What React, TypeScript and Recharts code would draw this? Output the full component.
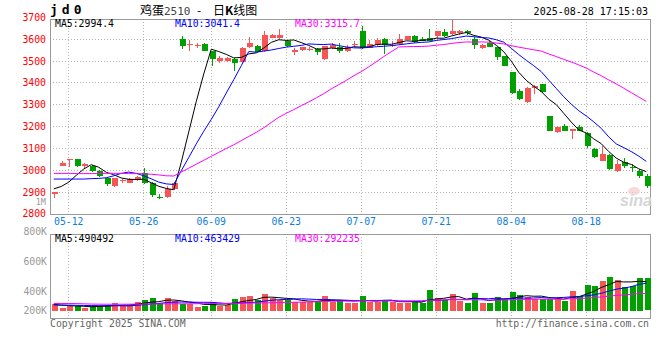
import { ComposedChart, Bar, Line, XAxis, YAxis, CartesianGrid, ReferenceArea, Cell } from 'recharts';

const DATES = [
    '05-08', '05-09', '05-12', '05-13', '05-14', '05-15', '05-16', '05-19', '05-20', '05-21',
    '05-22', '05-23', '05-26', '05-27', '05-28', '05-29', '05-30', '06-03', '06-04', '06-05',
    '06-06', '06-09', '06-10', '06-11', '06-12', '06-13', '06-16', '06-17', '06-18', '06-19',
    '06-20', '06-23', '06-24', '06-25', '06-26', '06-27', '06-30', '07-01', '07-02', '07-03',
    '07-04', '07-07', '07-08', '07-09', '07-10', '07-11', '07-14', '07-15', '07-16', '07-17',
    '07-18', '07-21', '07-22', '07-23', '07-24', '07-25', '07-28', '07-29', '07-30', '07-31',
    '08-01', '08-04', '08-05', '08-06', '08-07', '08-08', '08-11', '08-12', '08-13', '08-14',
    '08-15', '08-18', '08-19', '08-20', '08-21', '08-22', '08-25', '08-26', '08-27', '08-28',
];

const OPEN = [
    2892, 3021, 3046, 3053, 3018, 3022, 2999, 2964, 2927, 2953,
    2943, 2955, 2990, 2942, 2880, 2880, 2915, 3603, 3573, 3568,
    3580, 3545, 3499, 3499, 3510, 3495, 3566, 3570, 3545, 3608,
    3604, 3591, 3542, 3550, 3555, 3556, 3510, 3558, 3564, 3546,
    3576, 3638, 3561, 3573, 3603, 3570, 3578, 3599, 3614, 3603,
    3606, 3615, 3633, 3626, 3630, 3638, 3600, 3558, 3581, 3563,
    3523, 3450, 3364, 3313, 3379, 3394, 3248, 3177, 3205, 3179,
    3199, 3172, 3099, 3045, 3072, 2995, 3038, 3015, 2999, 2972,
];
const HIGH = [
    2901, 3045, 3054, 3054, 3033, 3024, 3000, 2966, 2966, 2962,
    2966, 2973, 3012, 2945, 2893, 2928, 2945, 3616, 3595, 3585,
    3584, 3548, 3525, 3520, 3513, 3563, 3610, 3572, 3640, 3625,
    3646, 3595, 3558, 3566, 3565, 3560, 3571, 3582, 3585, 3575,
    3592, 3661, 3597, 3605, 3606, 3590, 3623, 3617, 3618, 3612,
    3649, 3640, 3649, 3690, 3643, 3641, 3612, 3580, 3590, 3566,
    3525, 3452, 3372, 3380, 3392, 3396, 3250, 3205, 3212, 3190,
    3206, 3174, 3101, 3110, 3074, 3047, 3055, 3030, 3005, 2984,
];
const LOW = [
    2872, 3018, 3015, 3016, 3007, 2993, 2970, 2930, 2925, 2940,
    2940, 2950, 2936, 2880, 2868, 2875, 2912, 3555, 3545, 3562,
    3545, 3480, 3490, 3495, 3454, 3485, 3560, 3540, 3540, 3604,
    3600, 3565, 3530, 3545, 3548, 3530, 3505, 3555, 3538, 3543,
    3565, 3556, 3558, 3570, 3533, 3567, 3575, 3596, 3585, 3590,
    3590, 3605, 3612, 3622, 3621, 3622, 3555, 3556, 3563, 3505,
    3476, 3350, 3322, 3310, 3350, 3356, 3178, 3172, 3178, 3142,
    3178, 3100, 3058, 3043, 3002, 2993, 3010, 2993, 2966, 2920,
];
const CLOSE = [
    2899, 3033, 3052, 3018, 3030, 2996, 2974, 2936, 2964, 2957,
    2962, 2970, 2940, 2885, 2876, 2915, 2941, 3569, 3577, 3572,
    3548, 3508, 3515, 3514, 3490, 3560, 3585, 3543, 3621, 3621,
    3621, 3568, 3552, 3563, 3557, 3541, 3568, 3572, 3545, 3565,
    3580, 3560, 3577, 3598, 3573, 3576, 3603, 3614, 3588, 3593,
    3593, 3638, 3615, 3638, 3636, 3627, 3573, 3576, 3566, 3521,
    3479, 3356, 3325, 3378, 3388, 3359, 3180, 3199, 3180, 3188,
    3180, 3110, 3061, 3073, 3004, 3030, 3018, 3011, 2972, 2928,
];

const MA5 = [
    2915, 2926, 2946, 2977, 3006, 3026, 3014, 2991, 2980, 2965,
    2959, 2958, 2959, 2943, 2927, 2917, 2911, 3037, 3176, 3315,
    3441, 3555, 3544, 3531, 3515, 3517, 3533, 3538, 3560, 3586,
    3598, 3595, 3597, 3585, 3572, 3556, 3556, 3560, 3557, 3558,
    3566, 3564, 3565, 3576, 3578, 3577, 3585, 3593, 3591, 3595,
    3598, 3605, 3605, 3615, 3624, 3631, 3618, 3610, 3596, 3573,
    3543, 3500, 3449, 3412, 3385, 3361, 3326, 3301, 3261, 3221,
    3185, 3171, 3144, 3122, 3086, 3056, 3037, 3027, 3007, 2994,
];
const MA10 = [
    2960, 2960, 2960, 2960, 2960, 2962, 2963, 2966, 2975, 2986,
    2992, 2986, 2975, 2961, 2946, 2938, 2935, 2998, 3059, 3121,
    3179, 3233, 3291, 3354, 3415, 3479, 3544, 3541, 3546, 3551,
    3558, 3564, 3568, 3572, 3579, 3577, 3576, 3578, 3571, 3565,
    3561, 3560, 3563, 3566, 3568, 3571, 3575, 3579, 3583, 3586,
    3588, 3595, 3599, 3603, 3609, 3615, 3612, 3608, 3606, 3598,
    3587, 3559, 3530, 3504, 3479, 3452, 3413, 3375, 3337, 3303,
    3273, 3249, 3222, 3192, 3153, 3121, 3104, 3086, 3065, 3041,
];
const MA30 = [
    2986, 2986, 2986, 2985, 2985, 2985, 2985, 2986, 2986, 2986,
    2985, 2985, 2984, 2982, 2979, 2975, 2974, 2992, 3010, 3028,
    3046, 3064, 3082, 3100, 3117, 3136, 3155, 3174, 3195, 3219,
    3243, 3261, 3278, 3296, 3313, 3332, 3351, 3373, 3392, 3412,
    3433, 3452, 3474, 3497, 3521, 3543, 3565, 3566, 3567, 3567,
    3569, 3573, 3576, 3581, 3585, 3588, 3587, 3588, 3587, 3583,
    3579, 3571, 3564, 3558, 3552, 3546, 3533, 3521, 3508, 3496,
    3483, 3468, 3450, 3433, 3414, 3396, 3376, 3356, 3336, 3316,
];

const VOLUME = [
    123000, 50000, 79000, 79000, 55000, 79000, 79000, 96000, 129000, 89000,
    96000, 146000, 180000, 213000, 134000, 213000, 168000, 113000, 113000, 62000,
    89000, 146000, 89000, 101000, 197000, 230000, 247000, 180000, 281000, 213000,
    190000, 180000, 146000, 156000, 146000, 168000, 247000, 151000, 190000, 134000,
    134000, 247000, 156000, 146000, 190000, 156000, 134000, 134000, 163000, 134000,
    348000, 213000, 190000, 281000, 163000, 134000, 297000, 129000, 134000, 240000,
    197000, 324000, 269000, 240000, 197000, 207000, 207000, 197000, 173000, 341000,
    252000, 437000, 425000, 504000, 571000, 521000, 403000, 425000, 559000, 543000,
];
const VOL_MA5 = [
    105000, 95000, 88000, 82000, 77000, 68000, 74000, 78000, 88000, 94000,
    98000, 111000, 128000, 145000, 154000, 177000, 182000, 168000, 148000, 134000,
    109000, 105000, 100000, 97000, 124000, 153000, 173000, 191000, 227000, 230000,
    222000, 209000, 202000, 177000, 164000, 159000, 173000, 174000, 180000, 178000,
    171000, 171000, 172000, 163000, 175000, 179000, 156000, 152000, 155000, 144000,
    183000, 198000, 210000, 233000, 239000, 196000, 213000, 201000, 171000, 187000,
    199000, 205000, 233000, 254000, 245000, 247000, 224000, 210000, 196000, 225000,
    234000, 280000, 326000, 392000, 438000, 492000, 485000, 485000, 496000, 490000,
];
const VOL_MA10 = [
    100000, 98000, 96000, 93000, 90000, 88000, 87000, 86000, 86000, 86000,
    83000, 93000, 103000, 116000, 124000, 138000, 146000, 148000, 147000, 144000,
    143000, 143000, 134000, 123000, 129000, 131000, 139000, 145000, 162000, 177000,
    187000, 191000, 197000, 202000, 197000, 191000, 191000, 188000, 179000, 171000,
    165000, 172000, 173000, 172000, 176000, 175000, 164000, 162000, 159000, 159000,
    181000, 177000, 181000, 194000, 192000, 189000, 206000, 205000, 202000, 213000,
    198000, 209000, 217000, 213000, 216000, 223000, 214000, 221000, 225000, 235000,
    241000, 252000, 268000, 294000, 331000, 363000, 382000, 405000, 444000, 463000,
];
const VOL_MA30 = [
    123000, 123000, 123000, 122000, 118000, 114000, 112000, 111000, 111000, 111000,
    112000, 113000, 114000, 115000, 116000, 117000, 118000, 118000, 119000, 120000,
    121000, 122000, 123000, 124000, 126000, 128000, 130000, 132000, 134000, 136000,
    138000, 142000, 144000, 147000, 150000, 153000, 159000, 160000, 162000, 164000,
    165000, 169000, 168000, 166000, 167000, 166000, 164000, 165000, 167000, 169000,
    178000, 180000, 183000, 189000, 188000, 185000, 187000, 185000, 180000, 181000,
    181000, 186000, 190000, 193000, 195000, 196000, 195000, 196000, 196000, 203000,
    206000, 213000, 222000, 234000, 246000, 259000, 268000, 277000, 290000, 292000,
];

const DATE_TICKS = ['05-12', '05-26', '06-09', '06-23', '07-07', '07-21', '08-04', '08-18'];
const PRICE_TICKS = [2800, 2900, 3000, 3100, 3200, 3300, 3400, 3500, 3600, 3700];
const VOL_GRID = [254000, 596000, 936000];
const VOL_LABELS = ['800K', '600K', '400K', '200K'];
const VOL_LABEL_Y = [234.5, 264.5, 294.5, 314];

const PRICE_LEGEND = ['MA5:2994.4', 'MA10:3041.4', 'MA30:3315.7'];
const VOL_LEGEND = ['MA5:490492', 'MA10:463429', 'MA30:292235'];

const RED = '#f65656';
const GREEN = '#00a000';
const MA_COLORS = ['#000000', '#0000ff', '#ff00ff'];
const MONO = '"DejaVu Sans Mono", "Liberation Mono", monospace';
const GRID = '#b4b4b4';

const priceData = DATES.map((date, i) => ({
    date,
    open: OPEN[i],
    high: HIGH[i],
    low: LOW[i],
    close: CLOSE[i],
    ma5: MA5[i],
    ma10: MA10[i],
    ma30: MA30[i],
}));

const volData = DATES.map((date, i) => ({
    date,
    vol: VOLUME[i],
    up: CLOSE[i] >= OPEN[i],
    ma5: VOL_MA5[i],
    ma10: VOL_MA10[i],
    ma30: VOL_MA30[i],
}));

function Candle(props: any) {
    const { x, y, width, height, payload } = props;
    const { open, close, high, low } = payload;
    const color = close >= open ? RED : GREEN;
    const k = high === low ? 0 : height / (high - low);
    const yOf = (v: number) => y + (high - v) * k;
    const top = yOf(Math.max(open, close));
    const bottom = yOf(Math.min(open, close));
    const left = Math.round(x);
    const cx = left + 3.5;
    return (
        <g shapeRendering="crispEdges">
            <line x1={cx} x2={cx} y1={Math.round(y)} y2={Math.round(y + height)} stroke={color} strokeWidth={1} />
            <rect x={left + 0.5} y={Math.round(top)} width={width} height={Math.max(1, Math.round(bottom) - Math.round(top))} fill={color} />
        </g>
    );
}

function VolBar(props: any) {
    const { x, y, width, height, payload } = props;
    return (
        <rect
            x={Math.round(x) + 0.5}
            y={Math.round(y)}
            width={width}
            height={Math.max(0, Math.round(height))}
            fill={payload.up ? RED : GREEN}
            shapeRendering="crispEdges"
        />
    );
}

// hide grid lines that fall on the frame
const innerHLines = (top: number, bottom: number) => (p: any) =>
    p.y1 > top + 1 && p.y1 < bottom - 1 ? (
        <line key={`h-${p.index}`} x1={p.x1} x2={p.x2} y1={p.y1} y2={p.y1} stroke={GRID} strokeDasharray="1 2" shapeRendering="crispEdges" />
    ) : (
        <g key={`h-${p.index}`} />
    );

const DateTick = (p: any) => (
    <text x={p.x} y={p.y + 10.5} textAnchor="middle" fill="#0a7ee0" fontSize={9.8} fontFamily={MONO}>
        {p.payload.value}
    </text>
);

export default function App() {
    const txt = { fontFamily: MONO, fontSize: 9.8 };
    return (
        <div style={{ position: 'absolute', left: 0, top: 0, width: 660, height: 360, background: '#fff' }}>
            <div style={{ position: 'absolute', left: 0, top: 0 }}>
                <ComposedChart width={660} height={230} data={priceData} margin={{ top: 19, right: 10, bottom: 0, left: 0 }}>
                    <CartesianGrid stroke={GRID} strokeDasharray="1 2" shapeRendering="crispEdges" horizontal={innerHLines(19, 214)} />
                    <XAxis dataKey="date" ticks={DATE_TICKS} interval={0} axisLine={false} tickLine={false} tickSize={0} tickMargin={0} height={16} tick={DateTick} />
                    <YAxis
                        domain={[2800, 3693]}
                        allowDataOverflow
                        ticks={PRICE_TICKS}
                        interval={0}
                        width={50}
                        axisLine={false}
                        tickLine={false}
                        tickSize={0}
                        tickMargin={4}
                        tick={{ fill: '#f00', fontSize: 9.8, fontFamily: MONO }}
                    />
                    <Bar dataKey={(d: any) => [d.low, d.high]} barSize={6} shape={Candle} isAnimationActive={false} />
                    <Line dataKey="ma5" stroke={MA_COLORS[0]} strokeWidth={1} dot={false} isAnimationActive={false} />
                    <Line dataKey="ma10" stroke={MA_COLORS[1]} strokeWidth={1} dot={false} isAnimationActive={false} />
                    <Line dataKey="ma30" stroke={MA_COLORS[2]} strokeWidth={1} dot={false} isAnimationActive={false} />
                    <ReferenceArea y1={2800} y2={3693} ifOverflow="visible" fill="none" stroke="#999" strokeWidth={1} shapeRendering="crispEdges" />
                </ComposedChart>
            </div>

            <div style={{ position: 'absolute', left: 0, top: 230 }}>
                <ComposedChart width={660} height={90} data={volData} margin={{ top: 4, right: 10, bottom: 2, left: 0 }}>
                    <CartesianGrid stroke={GRID} strokeDasharray="1 2" shapeRendering="crispEdges" />
                    <XAxis dataKey="date" ticks={DATE_TICKS} interval={0} hide />
                    <YAxis domain={[-120000, 1289000]} allowDataOverflow ticks={VOL_GRID} interval={0} width={50} tick={false} axisLine={false} tickLine={false} />
                    <Bar dataKey="vol" barSize={6} shape={VolBar} isAnimationActive={false}>
                        {volData.map((d, i) => (
                            <Cell key={i} fill={d.up ? RED : GREEN} />
                        ))}
                    </Bar>
                    <Line dataKey="ma5" stroke={MA_COLORS[0]} strokeWidth={1} dot={false} isAnimationActive={false} />
                    <Line dataKey="ma10" stroke={MA_COLORS[1]} strokeWidth={1} dot={false} isAnimationActive={false} />
                    <Line dataKey="ma30" stroke={MA_COLORS[2]} strokeWidth={1} dot={false} isAnimationActive={false} />
                    <ReferenceArea y1={-120000} y2={1289000} ifOverflow="visible" fill="none" stroke="#999" strokeWidth={1} shapeRendering="crispEdges" />
                </ComposedChart>
            </div>

            {/* titles, legends and labels */}
            <svg width={660} height={360} style={{ position: 'absolute', left: 0, top: 0, pointerEvents: 'none' }}>
                <text x={50} y={14} fontFamily={MONO} fontSize={13} fontWeight="bold" letterSpacing={4} fill="#000">jd0</text>
                <text y={15} fontSize={12} fill="#000" fontFamily='"Noto Sans CJK SC", sans-serif'>
                    <tspan x={140}>鸡蛋</tspan>
                    <tspan x={164} fontFamily={MONO} fontSize={11} fill="#444">2510</tspan>
                    <tspan x={197}>-</tspan>
                    <tspan x={213}>日</tspan>
                    <tspan fontWeight="bold">K</tspan>
                    <tspan>线图</tspan>
                </text>
                <text x={648} y={15} textAnchor="end" {...txt} fontSize={10} fill="#000">2025-08-28 17:15:03</text>

                {PRICE_LEGEND.map((s, i) => (
                    <text key={s} x={55 + i * 120} y={27} {...txt} fill={MA_COLORS[i]}>{s}</text>
                ))}
                {VOL_LEGEND.map((s, i) => (
                    <text key={s} x={55 + i * 120} y={242} {...txt} fill={MA_COLORS[i]}>{s}</text>
                ))}

                <text x={46} y={205} textAnchor="end" {...txt} fontSize={8.5} fill="#999">1M</text>
                {VOL_LABELS.map((s, i) => (
                    <text key={s} x={47} y={VOL_LABEL_Y[i]} textAnchor="end" {...txt} fill="#999">{s}</text>
                ))}

                <text x={50} y={327} {...txt} fill="#666">Copyright 2025 SINA.COM</text>
                <text x={649} y={327} textAnchor="end" {...txt} fill="#666">http://finance.sina.com.cn</text>

                <ellipse cx={634} cy={191} rx={6} ry={4} fill="#f4caca" opacity={0.7} />
                <text x={620} y={206} fontFamily="Liberation Sans, sans-serif" fontSize={16} fontStyle="italic" fontWeight="bold" fill="#d6d6d6">sina</text>
            </svg>
        </div>
    );
}
